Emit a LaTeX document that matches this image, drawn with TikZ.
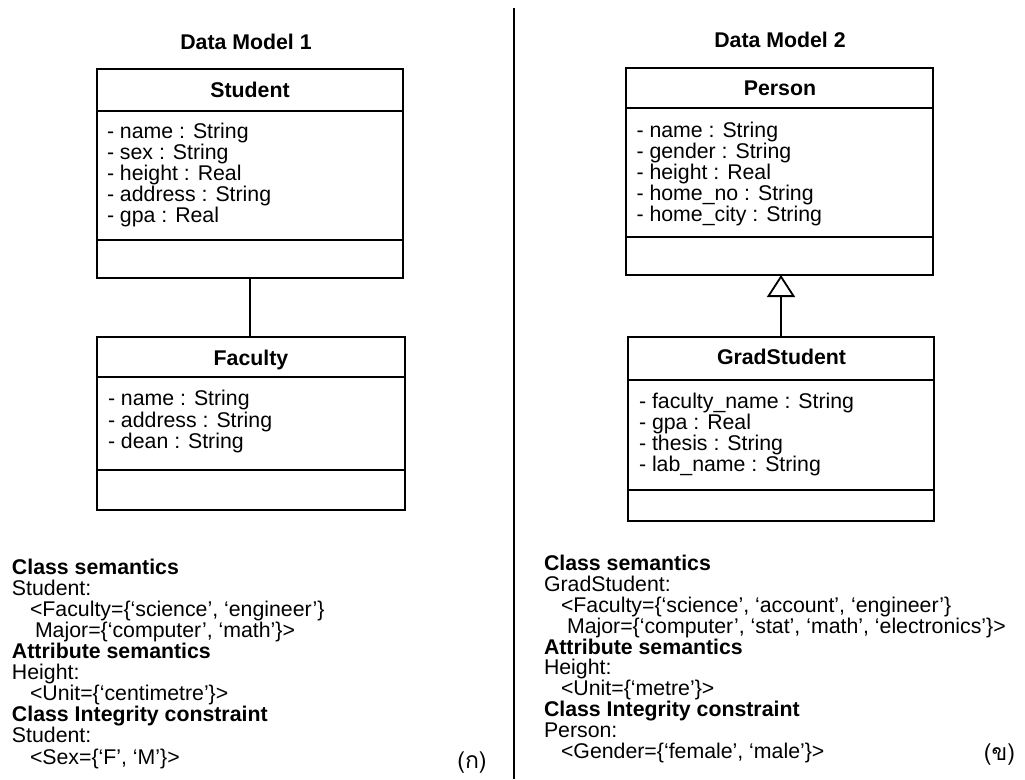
\documentclass[tikz,border=0pt]{standalone}
\usepackage{fontspec}
\setmainfont{Liberation Sans}
\newfontfamily\thaifont[Script=Thai]{Loma}
\usetikzlibrary{arrows.meta,calc}
\begin{document}
\begin{tikzpicture}[x=1pt,y=-1pt,
  every node/.style={inner sep=0pt, outer sep=0pt},
  txt/.style={font=\fontsize{21.3}{21}\selectfont, anchor=mid west, yshift=-4.5pt},
  bold/.style={txt, font=\fontsize{21.3}{21}\selectfont\bfseries},
  hdr/.style={font=\fontsize{21.3}{21}\selectfont\bfseries, anchor=mid, yshift=-4.5pt},
  classbox/.style={draw, line width=1.8pt},
  divider/.style={line width=1.8pt},
  sublabel/.style={font=\fontsize{23}{23}\selectfont\thaifont, anchor=center}]
\useasboundingbox (0,0) rectangle (1025,779);

% separator between the two models
\coordinate (septop) at (514,8);
\coordinate (sepbot) at (514,779);
\draw[line width=1.8pt] (septop) -- (sepbot);

% ---------------- Data Model 1 ----------------
\node[hdr] (title1) at (246,42) {Data Model 1};

\node[classbox, minimum width=306, minimum height=209] (student) at (250,173.5) {};
\draw[divider] ($(student.north west)+(0,42)$) -- ($(student.north east)+(0,42)$);
\draw[divider] ($(student.south west)+(0,-38)$) -- ($(student.south east)+(0,-38)$);
\node[hdr] (studentname) at (250,90) {Student};
\node[txt] (sa1) at (107,131.7) {- name : String};
\node[txt] (sa2) at (107,152.5) {- sex : String};
\node[txt] (sa3) at (107,173.3) {- height : Real};
\node[txt] (sa4) at (107,194.1) {- address : String};
\node[txt] (sa5) at (107,214.9) {- gpa : Real};

\node[classbox, minimum width=308, minimum height=173] (faculty) at (251,423.5) {};
\draw[divider] ($(faculty.north west)+(0,40)$) -- ($(faculty.north east)+(0,40)$);
\draw[divider] ($(faculty.south west)+(0,-40)$) -- ($(faculty.south east)+(0,-40)$);
\node[hdr] (facultyname) at (251,358) {Faculty};
\node[txt] (fa1) at (108,398.5) {- name : String};
\node[txt] (fa2) at (108,420) {- address : String};
\node[txt] (fa3) at (108,441.5) {- dean : String};

% association
\draw[line width=1.8pt] (student.south) -- (student.south |- faculty.north);

% ---------------- Data Model 2 ----------------
\node[hdr] (title2) at (780,40) {Data Model 2};

\node[classbox, minimum width=307, minimum height=207] (person) at (779.5,171.5) {};
\draw[divider] ($(person.north west)+(0,40)$) -- ($(person.north east)+(0,40)$);
\draw[divider] ($(person.south west)+(0,-38)$) -- ($(person.south east)+(0,-38)$);
\node[hdr] (personname) at (780,88.5) {Person};
\node[txt] (pa1) at (636.5,130) {- name : String};
\node[txt] (pa2) at (636.5,151) {- gender : String};
\node[txt] (pa3) at (636.5,172) {- height : Real};
\node[txt] (pa4) at (636.5,193) {- home\_no : String};
\node[txt] (pa5) at (636.5,214) {- home\_city : String};

\node[classbox, minimum width=306, minimum height=184] (grad) at (781,429) {};
\draw[divider] ($(grad.north west)+(0,43)$) -- ($(grad.north east)+(0,43)$);
\draw[divider] ($(grad.south west)+(0,-31)$) -- ($(grad.south east)+(0,-31)$);
\node[hdr] (gradname) at (781.5,357) {GradStudent};
\node[txt] (ga1) at (639,401.7) {- faculty\_name : String};
\node[txt] (ga2) at (639,422.7) {- gpa : Real};
\node[txt] (ga3) at (639,443.7) {- thesis : String};
\node[txt] (ga4) at (639,464.7) {- lab\_name : String};

% generalisation
\draw[line width=1.8pt, -{Triangle[open, width=28pt, length=22pt, line width=1.8pt]}]
  (grad.north) -- (grad.north |- person.south);

% ---------------- semantics, model 1 ----------------
\node[bold] (l1) at (12,567.0) {Class semantics};
\node[txt]  (l2) at (12,588.1) {Student:};
\node[txt]  (l3) at (30,609.2) {<Faculty=\{‘science’, ‘engineer’\}};
\node[txt]  (l4) at (35,630.3) {Major=\{‘computer’, ‘math’\}>};
\node[bold] (l5) at (12,651.4) {Attribute semantics};
\node[txt]  (l6) at (12,672.5) {Height:};
\node[txt]  (l7) at (30,693.6) {<Unit=\{‘centimetre’\}>};
\node[bold] (l8) at (12,714.7) {Class Integrity constraint};
\node[txt]  (l9) at (12,735.8) {Student:};
\node[txt]  (l10) at (30,756.9) {<Sex=\{‘F’, ‘M’\}>};
\node[sublabel] (lab1) at (472,763) {(ก)};

% ---------------- semantics, model 2 ----------------
\node[bold] (r1) at (544,563.3) {Class semantics};
\node[txt]  (r2) at (544,584.2) {GradStudent:};
\node[txt]  (r3) at (561,605.1) {<Faculty=\{‘science’, ‘account’, ‘engineer’\}};
\node[txt]  (r4) at (567,626.0) {Major=\{‘computer’, ‘stat’, ‘math’, ‘electronics’\}>};
\node[bold] (r5) at (544,646.9) {Attribute semantics};
\node[txt]  (r6) at (544,667.8) {Height:};
\node[txt]  (r7) at (561,688.7) {<Unit=\{‘metre’\}>};
\node[bold] (r8) at (544,709.6) {Class Integrity constraint};
\node[txt]  (r9) at (544,730.5) {Person:};
\node[txt]  (r10) at (561,751.4) {<Gender=\{‘female’, ‘male’\}>};
\node[sublabel] (lab2) at (999.5,755) {(ข)};
\end{tikzpicture}
\end{document}
